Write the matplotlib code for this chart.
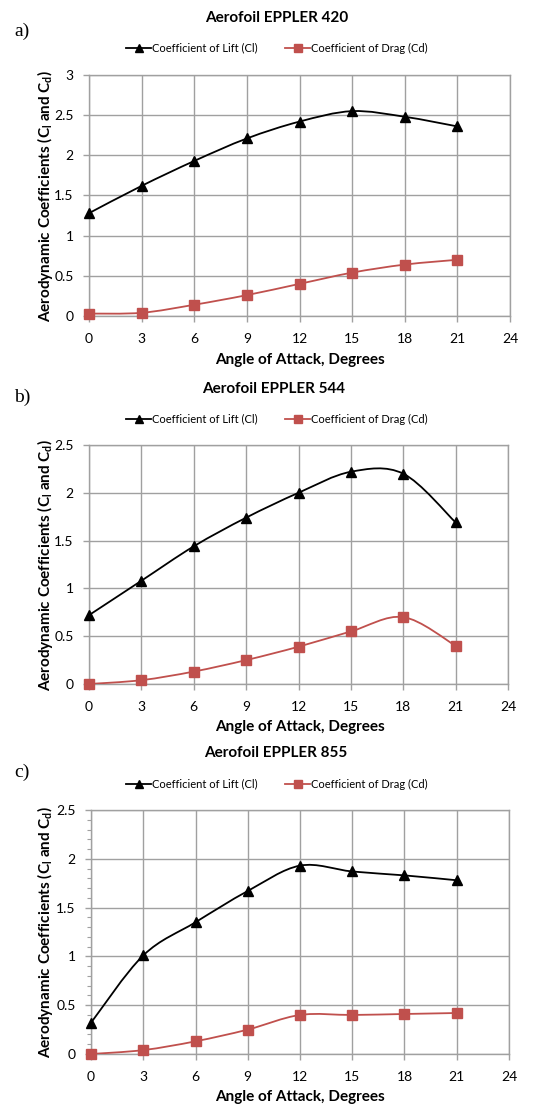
import matplotlib
matplotlib.use("Agg")
import matplotlib.pyplot as plt
from matplotlib.path import Path
from matplotlib.patches import PathPatch
from matplotlib.lines import Line2D
from matplotlib.ticker import MultipleLocator, FuncFormatter

plt.rcParams['font.family'] = ['Lato', 'DejaVu Sans']
plt.rcParams['mathtext.fontset'] = 'custom'
plt.rcParams['mathtext.rm'] = 'Lato:bold'
plt.rcParams['mathtext.it'] = 'Lato:bold'
plt.rcParams['mathtext.bf'] = 'Lato:bold'

angles = [0, 3, 6, 9, 12, 15, 18, 21]

titles = ["Aerofoil EPPLER 420", "Aerofoil EPPLER 544", "Aerofoil EPPLER 855"]
panel_labels = ["a)", "b)", "c)"]

cl_420 = [1.28, 1.62, 1.93, 2.21, 2.42, 2.55, 2.48, 2.36]
cd_420 = [0.03, 0.04, 0.14, 0.26, 0.40, 0.54, 0.64, 0.70]

cl_544 = [0.72, 1.08, 1.44, 1.74, 2.00, 2.22, 2.20, 1.69]
cd_544 = [0.00, 0.04, 0.13, 0.25, 0.39, 0.55, 0.70, 0.40]

cl_855 = [0.32, 1.01, 1.35, 1.67, 1.93, 1.87, 1.83, 1.78]
cd_855 = [0.00, 0.04, 0.13, 0.25, 0.40, 0.40, 0.41, 0.42]

y_max = [3.0, 2.5, 2.5]

lift_label = "Coefficient of Lift (Cl)"
drag_label = "Coefficient of Drag (Cd)"
x_label = "Angle of Attack, Degrees"
y_label = "Aerodynamic Coefficients (C$_{l}$ and C$_{d}$)"

BLACK = "#000000"
RED = "#C0504D"
GRID = "#a0a0a0"

W, H = 539, 1104
fig = plt.figure(figsize=(W / 100, H / 100), dpi=100)


def smooth_path(xs, ys):
    verts = [(xs[0], ys[0])]
    codes = [Path.MOVETO]
    n = len(xs)
    for i in range(n - 1):
        x0, y0 = xs[max(i - 1, 0)], ys[max(i - 1, 0)]
        x1, y1 = xs[i], ys[i]
        x2, y2 = xs[i + 1], ys[i + 1]
        x3, y3 = xs[min(i + 2, n - 1)], ys[min(i + 2, n - 1)]
        c1 = (x1 + (x2 - x0) / 6.0, y1 + (y2 - y0) / 6.0)
        c2 = (x2 - (x3 - x1) / 6.0, y2 - (y3 - y1) / 6.0)
        verts += [c1, c2, (x2, y2)]
        codes += [Path.CURVE4] * 3
    return Path(verts, codes)


def px_rect(l, t, r, b):
    return [l / W, 1 - b / H, (r - l) / W, (b - t) / H]


rects = [px_rect(89, 75, 510, 316), px_rect(89, 445, 508, 684), px_rect(91, 810, 509, 1054)]
title_y = [18, 389, 753]
title_x = [277, 274, 276]
legend_y = [48, 419, 784]
plab_y = [31, 397, 772]
xlab_y = [360, 727, 1097]

series = [(cl_420, cd_420), (cl_544, cd_544), (cl_855, cd_855)]

for k in range(3):
    ax = fig.add_axes(rects[k])
    cl, cd = series[k]
    ax.add_patch(PathPatch(smooth_path(angles, cl), fill=False, edgecolor=BLACK, lw=1.3, zorder=3))
    ax.add_patch(PathPatch(smooth_path(angles, cd), fill=False, edgecolor=RED, lw=1.3, zorder=3))
    ax.plot(angles, cl, linestyle='none', marker='^', ms=7, color=BLACK, zorder=4, clip_on=False)
    ax.plot(angles, cd, linestyle='none', marker='s', ms=6.5, color=RED, zorder=4, clip_on=False)
    ax.set_xlim(0, 24)
    ax.set_ylim(0, y_max[k])
    ax.xaxis.set_major_locator(MultipleLocator(3))
    ax.yaxis.set_major_locator(MultipleLocator(0.5))
    if k == 2:
        ax.yaxis.set_minor_locator(MultipleLocator(0.1))
        ax.tick_params(axis='y', which='minor', length=3, color=GRID, width=0.8)
    ax.yaxis.set_major_formatter(FuncFormatter(lambda v, p: '%g' % v))
    ax.grid(True, which='major', color=GRID, lw=1.0)
    ax.set_axisbelow(True)
    for s in ax.spines.values():
        s.set_color(GRID)
        s.set_linewidth(1.0)
    ax.tick_params(axis='x', which='major', length=4, color=GRID, width=1.0,
                   labelsize=10, labelcolor='#000000', pad=8)
    ax.tick_params(axis='y', which='major', length=4, color=GRID, width=1.0,
                   labelsize=10, labelcolor='#000000', pad=7)
    fig.text(300 / W, 1 - xlab_y[k] / H, x_label, fontsize=11, fontweight='bold',
             ha='center', va='center')
    fig.text(45 / W, rects[k][1] + rects[k][3] / 2, y_label, fontsize=11, fontweight='bold',
             rotation=90, ha='center', va='center')
    fig.text(title_x[k] / W, 1 - title_y[k] / H, titles[k], fontsize=11, fontweight='bold',
             ha='center', va='center')
    fig.text(14 / W, 1 - plab_y[k] / H, panel_labels[k], fontsize=14,
             family=['Liberation Serif'], ha='left', va='center')
    handles = [Line2D([], [], color=BLACK, lw=1.3, marker='^', ms=6),
               Line2D([], [], color=RED, lw=1.3, marker='s', ms=6)]
    fig.legend(handles, [lift_label, drag_label], loc='center', ncol=2,
               bbox_to_anchor=(277 / W, 1 - legend_y[k] / H), frameon=False, fontsize=8.0,
               handlelength=2.2, handletextpad=0.1, columnspacing=2.5, borderaxespad=0)

fig.savefig("out.png", dpi=100)
